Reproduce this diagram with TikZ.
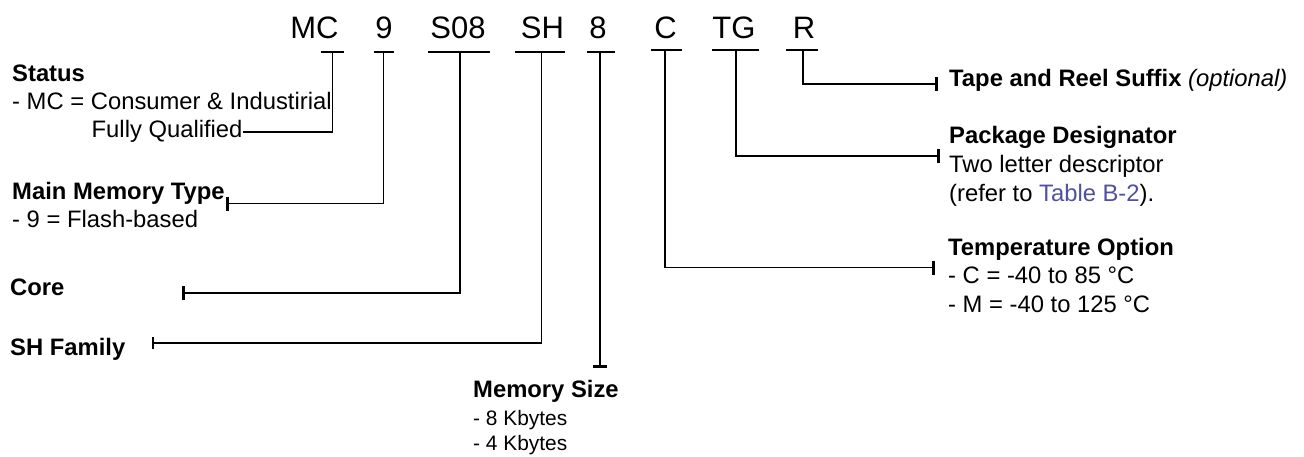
\documentclass[tikz,border=0pt]{standalone}
\usepackage{fontspec}
\setmainfont{Liberation Sans}
\usetikzlibrary{arrows.meta}
\definecolor{linkblue}{RGB}{80,80,160}
\tikzset{
  lbl/.style={inner sep=0pt, anchor=base west, font=\fontsize{23.8}{28}\selectfont},
  head/.style={lbl, font=\fontsize{23.8}{28}\selectfont\bfseries},
  small/.style={lbl, font=\fontsize{20.9}{25}\selectfont},
  code/.style={inner sep=0pt, anchor=base, font=\fontsize{31}{36}\selectfont},
  wire/.style={line width=1.3pt},
  capbar/.style={line width=1.3pt},
  tick/.style={wire, -{Rectangle[length=3pt,width=14pt]}},
  thintick/.style={wire, -{Rectangle[length=1.6pt,width=12pt]}},
}
\begin{document}
\begin{tikzpicture}[x=1pt,y=-1pt]
\useasboundingbox (0,0) rectangle (1304,456);
% part number characters
\node[code] (mc)  at (314.5,38) {MC};
\node[code] (n9)  at (384,38)   {9};
\node[code] (s08) at (458,38)   {S08};
\node[code] (sh)  at (542.5,38) {SH};
\node[code] (e8)  at (598,38)   {8};
\node[code] (cc)  at (665.5,38) {C};
\node[code] (tg)  at (734,38)   {TG};
\node[code] (rr)  at (804,38)   {R};
% bar tops of stems
\coordinate (mcb)  at (332.5,52);
\coordinate (n9b)  at (383.5,52);
\coordinate (s08b) at (460,52);
\coordinate (shb)  at (541.5,52);
\coordinate (e8b)  at (600,52);
\coordinate (ccb)  at (665,50);
\coordinate (tgb)  at (736,50);
\coordinate (rrb)  at (803,50);
\draw[capbar] (320.5,52) -- (343.5,52);
\draw[capbar] (373.5,52) -- (393.5,52);
\draw[capbar] (428,52) -- (490,52);
\draw[capbar] (515,52) -- (564.5,52);
\draw[capbar] (587,52) -- (614.5,52);
\draw[capbar] (651,50) -- (681.5,50);
\draw[capbar] (712,50) -- (759,50);
\draw[capbar] (786,50) -- (818,50);
% left labels
\node[head] (status) at (12,81)    {Status};
\node[lbl]  (mcdef)  at (12,109)   {- MC = Consumer \& Industirial};
\node[lbl]  (fully)  at (91.5,137.5) {Fully Qualified};
\node[head] (mmt)    at (12,199)   {Main Memory Type};
\node[lbl]  (flash)  at (12,227.5) {- 9 = Flash-based};
\node[head] (core)   at (10,295)   {Core};
\node[head] (shf)    at (10,355)   {SH Family};
% bottom label
\node[head]  (msize) at (473,397)   {Memory Size};
\node[small] (k8)    at (473,425.5) {- 8 Kbytes};
\node[small] (k4)    at (473,450.5) {- 4 Kbytes};
% right labels
\node[head] (tape)  at (949,86)    {Tape and Reel Suffix {\mdseries\itshape (optional)}};
\node[head] (pkg)   at (949,143.5) {Package Designator};
\node[lbl]  (two)   at (949,172)   {Two letter descriptor};
\node[lbl]  (refer) at (949,201)   {(refer to \textcolor{linkblue}{Table B-2}).};
\node[head] (temp)  at (948,255)   {Temperature Option};
\node[lbl]  (tc)    at (948,283.5) {- C = -40 to 85 °C};
\node[lbl]  (tm)    at (948,312)   {- M = -40 to 125 °C};
% connector end points
\coordinate (mct) at (332.5,132);
\coordinate (n9t) at (383.5,203.5);
\coordinate (s08t) at (460,293);
\coordinate (sht) at (541.5,343);
\coordinate (cct) at (665,267.5);
\coordinate (tgt) at (736,156);
\coordinate (rrt) at (803,84);
\coordinate (n9e)  at (225.5,203.5);
\coordinate (s08e) at (181.5,293);
\coordinate (she)  at (152,343);
\coordinate (e8e)  at (600,368);
\coordinate (cce)  at (934.5,267.5);
\coordinate (tge)  at (939.5,156);
\coordinate (rre)  at (937.5,84);
% connectors
\draw[wire] (mcb) -- (mct) -- (mct -| fully.east);
\draw[tick] (n9b) -- (n9t) -- (n9e);
\draw[tick] (s08b) -- (s08t) -- (s08e);
\draw[thintick] (shb) -- (sht) -- (she);
\draw[tick] (e8b) -- (e8e);
\draw[tick] (ccb) -- (cct) -- (cce);
\draw[tick] (tgb) -- (tgt) -- (tge);
\draw[tick] (rrb) -- (rrt) -- (rre);
\end{tikzpicture}
\end{document}
